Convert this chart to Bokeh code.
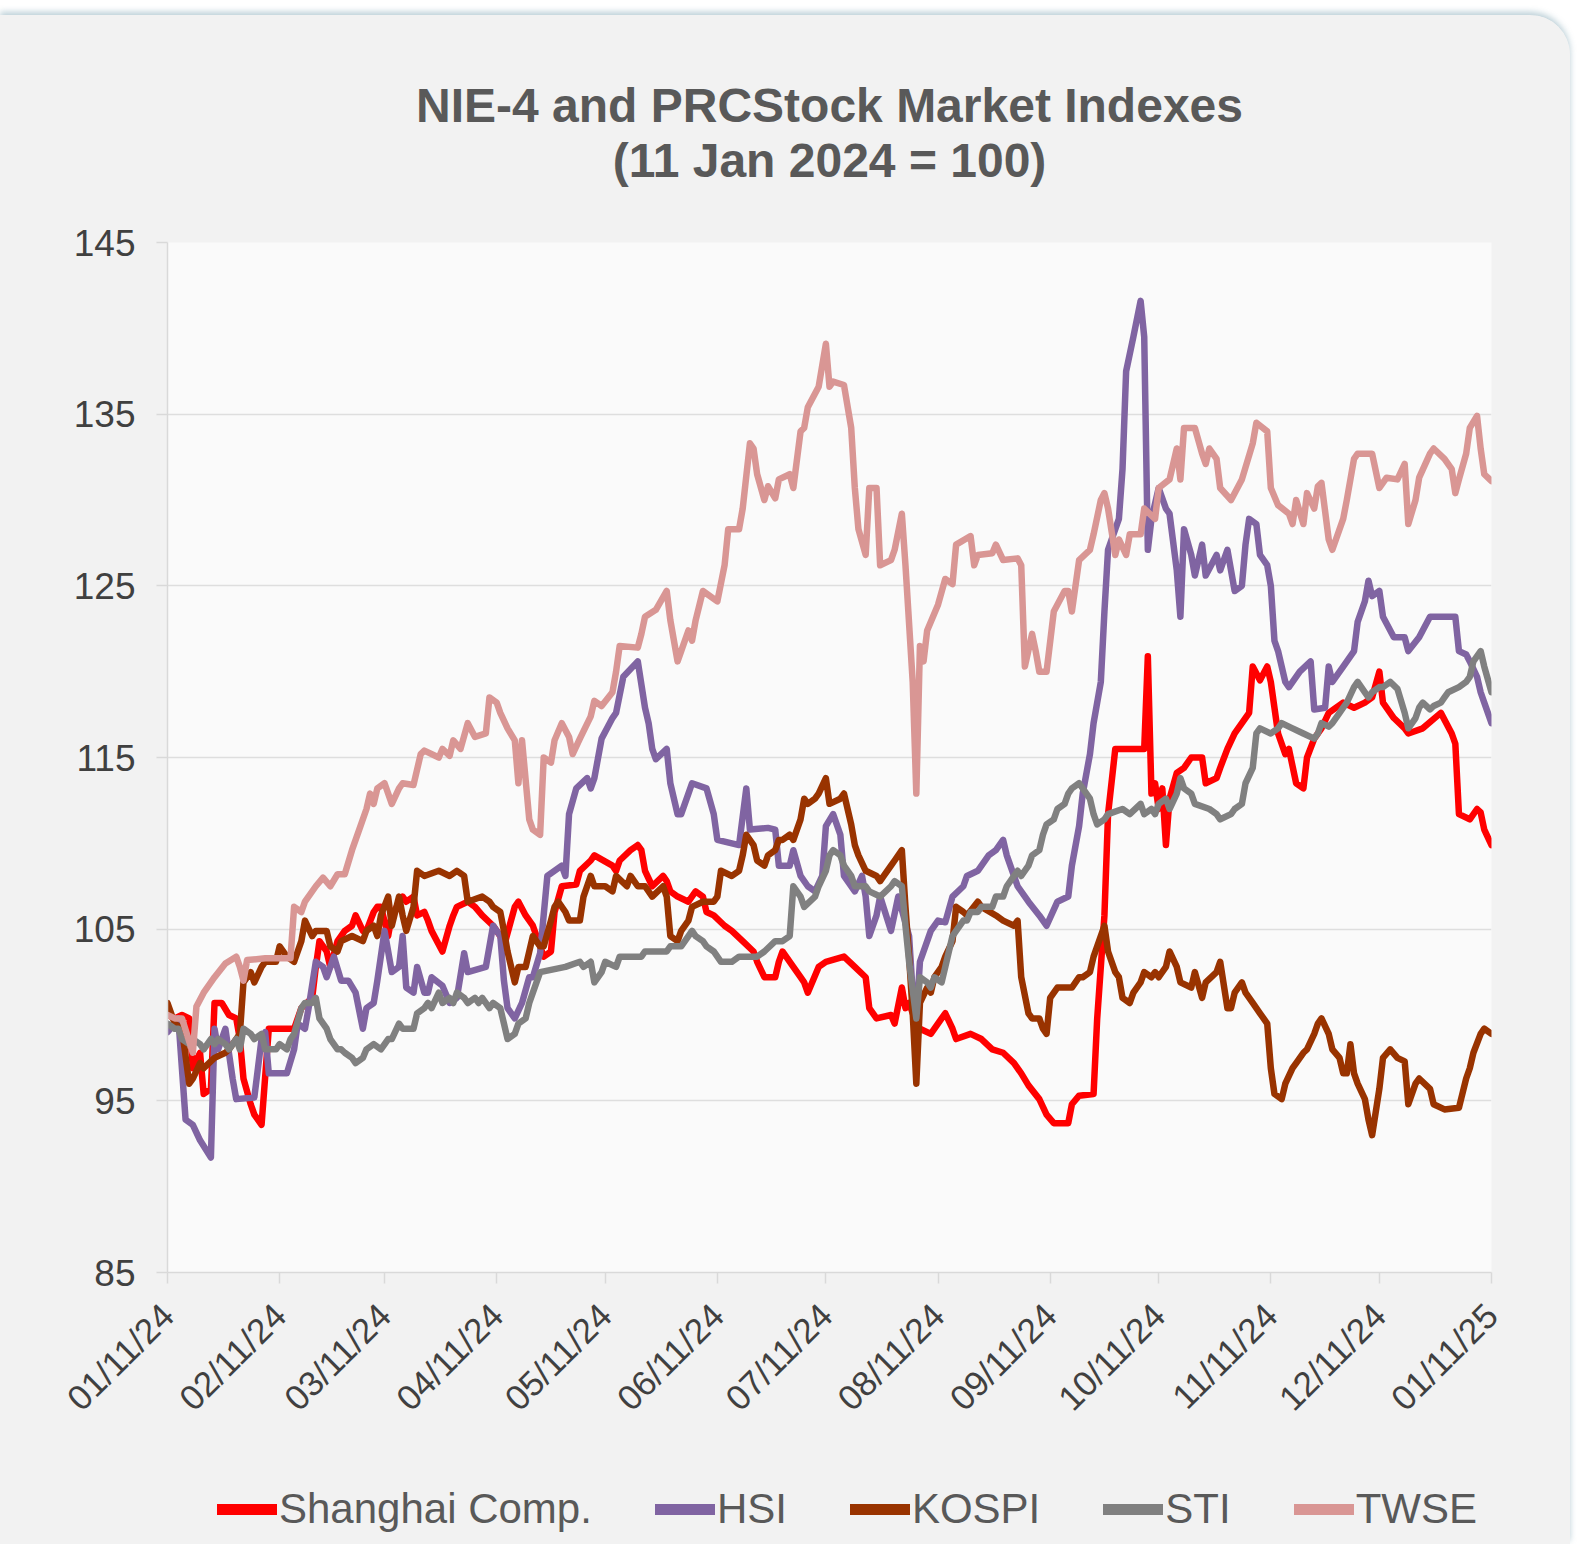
from datetime import datetime, timedelta
import pandas as pd
from bokeh.plotting import figure
from bokeh.layouts import column
from bokeh.models import FixedTicker, Legend, LegendItem, Range1d
from bokeh.embed import file_html
from bokeh.resources import INLINE

# ---------------- data (day offsets from 11 Jan 2024, index value) ----------------
start_date = "2024-01-11"

shanghai_day = [0, 2, 4, 6, 7, 9, 10, 12, 13, 15, 17, 19, 20, 21, 23, 24, 26, 28, 35, 37, 40, 41, 42, 44, 45, 47, 49, 51, 52, 54, 55, 57, 58, 59, 61, 62, 65, 66, 68, 69, 71, 72, 73, 76, 78, 79, 80, 83, 85, 87, 90, 92, 93, 96, 97, 99, 101, 103, 104, 106, 107, 109, 113, 114, 117, 118, 123, 124, 125, 128, 130, 131, 132, 134, 137, 138, 139, 141, 144, 146, 148, 149, 151, 154, 156, 159, 162, 163, 165, 168, 169, 170, 173, 175, 176, 177, 180, 182, 187, 190, 193, 194, 196, 200, 201, 203, 204, 205, 207, 208, 211, 214, 215, 217, 218, 222, 225, 228, 231, 234, 236, 238, 241, 243, 245, 249, 250, 252, 256, 257, 259, 260, 262, 270, 271, 272, 273, 274, 275, 276, 277, 279, 281, 283, 286, 287, 290, 291, 293, 295, 297, 299, 300, 302, 304, 305, 307, 309, 310, 312, 314, 315, 317, 319, 321, 325, 328, 331, 333, 335, 336, 339, 342, 343, 347, 352, 355, 356, 357, 360, 362, 363, 364, 366]
shanghai_val = [100, 99.8, 100, 99.8, 96.9, 97.8, 95.4, 95.7, 100.7, 100.7, 100, 99.8, 98.6, 96.3, 94.8, 94.2, 93.6, 99.2, 99.2, 100.4, 101, 102.8, 104.3, 103.7, 102.8, 104.3, 104.9, 105.2, 105.8, 104.9, 104.9, 106, 106.3, 106.3, 104.6, 105.8, 106.9, 106.6, 106.9, 105.8, 106, 105.5, 104.9, 103.7, 105.2, 105.8, 106.3, 106.6, 106.3, 105.8, 105.2, 104.6, 104, 106.3, 106.6, 105.8, 105.2, 104, 103.4, 103.7, 106, 107.5, 107.6, 108.4, 109, 109.3, 108.7, 108.4, 109, 109.6, 109.9, 109.6, 108.4, 107.5, 108.1, 107.8, 107.2, 106.9, 106.6, 107.2, 106.9, 106, 105.8, 105.2, 104.9, 104.3, 103.7, 103.1, 102.2, 102.2, 103.1, 103.7, 102.8, 102.2, 101.9, 101.3, 102.8, 103.1, 103.4, 102.8, 102.2, 100.4, 99.8, 100, 99.5, 101.6, 100.4, 100.7, 99.5, 99.2, 98.9, 99.8, 100.1, 99.2, 98.6, 98.9, 98.6, 98.0, 97.8, 97.2, 96.6, 95.9, 95.1, 94.2, 93.7, 93.7, 94.8, 95.3, 95.4, 99.8, 105.8, 111.7, 115.5, 115.5, 120.9, 112.9, 113.5, 112.0, 113.2, 109.9, 112.6, 114.1, 114.4, 115, 115, 113.5, 113.8, 114.4, 115.5, 116.4, 117, 117.6, 120.3, 119.5, 120.3, 119.4, 116.4, 115.2, 115.5, 113.5, 113.2, 115, 116.1, 116.7, 117.6, 118.2, 117.9, 118.2, 118.5, 120, 118.2, 117.3, 116.7, 116.4, 116.7, 117.6, 116.4, 115.8, 111.7, 111.4, 112, 111.8, 110.8, 109.9]

hsi_day = [0, 2, 3, 5, 7, 9, 12, 13, 14, 16, 18, 19, 24, 26, 27, 28, 33, 35, 36, 38, 39, 41, 43, 44, 46, 48, 50, 52, 54, 55, 57, 58, 60, 62, 64, 65, 66, 68, 69, 71, 72, 73, 76, 78, 80, 82, 83, 88, 90, 92, 93, 94, 96, 98, 100, 101, 103, 105, 109, 110, 111, 113, 116, 117, 118, 120, 123, 124, 126, 130, 132, 133, 134, 135, 138, 139, 141, 142, 144, 145, 149, 151, 152, 158, 160, 161, 166, 168, 169, 172, 173, 175, 177, 179, 181, 182, 184, 186, 187, 190, 192, 193, 194, 196, 197, 200, 202, 205, 206, 207, 208, 211, 213, 215, 217, 220, 221, 224, 227, 229, 231, 232, 235, 238, 241, 243, 246, 249, 250, 252, 253, 255, 256, 258, 259, 260, 263, 264, 265, 267, 269, 270, 271, 272, 274, 276, 277, 279, 280, 281, 283, 284, 286, 287, 290, 291, 293, 294, 295, 297, 298, 299, 301, 302, 304, 305, 306, 307, 309, 310, 313, 316, 317, 320, 321, 322, 325, 328, 329, 331, 332, 333, 335, 336, 339, 342, 343, 346, 349, 355, 356, 357, 359, 360, 362, 363, 364, 366]
hsi_val = [99, 99.5, 99.8, 93.9, 93.6, 92.7, 91.7, 99.2, 98, 99.2, 96.3, 95.1, 95.2, 98.6, 99, 96.6, 96.6, 98, 99.5, 99.2, 100.4, 103.1, 102.8, 102.2, 103.4, 102, 102, 101.3, 99.2, 100.4, 100.7, 102, 104.9, 102.5, 102.8, 104.6, 101.6, 101.3, 102.8, 101.3, 101.3, 102.2, 101.7, 100.7, 101, 103.6, 102.5, 102.8, 105.2, 104.6, 102, 100.4, 99.8, 100.7, 102.2, 102.2, 103.6, 108.1, 108.7, 108.1, 111.7, 113.2, 113.8, 113.2, 113.8, 116.1, 117.3, 117.6, 119.7, 120.6, 117.9, 117, 115.5, 114.9, 115.5, 113.5, 111.7, 111.7, 112.9, 113.5, 113.2, 111.7, 110.2, 109.9, 113.2, 110.8, 110.9, 110.8, 108.7, 108.7, 109.6, 108.1, 107.5, 107.2, 108.1, 111, 111.7, 110.5, 108.1, 107.2, 108.1, 106.9, 104.6, 105.8, 106.9, 104.9, 106.9, 104.6, 101.3, 99.8, 103.1, 104.9, 105.5, 105.4, 106.9, 107.5, 108.1, 108.4, 109.3, 109.6, 110.2, 109.3, 107.5, 106.6, 105.8, 105.2, 106.6, 106.9, 108.7, 111, 112.9, 115.2, 117, 119.4, 123.5, 127.1, 128.9, 131.8, 137.5, 139.5, 141.6, 139.5, 127.1, 128.9, 130.7, 129.5, 129.2, 125.9, 123.2, 128.3, 126.8, 125.6, 127.4, 125.6, 126.8, 125.9, 127.1, 125.9, 124.7, 125, 127.4, 128.9, 128.6, 126.8, 126.2, 125, 121.8, 121.2, 119.4, 119.1, 120, 120.6, 117.8, 117.9, 120.3, 119.4, 120.3, 121.2, 122.9, 124.1, 125.3, 124.4, 124.7, 123.2, 122, 122, 121.2, 122, 123.2, 123.2, 123.2, 121.2, 121, 120.6, 119.7, 118.8, 118.2, 117]

kospi_day = [0, 2, 4, 6, 7, 9, 10, 13, 16, 17, 19, 20, 21, 23, 24, 26, 27, 30, 31, 33, 35, 37, 38, 40, 41, 44, 45, 47, 48, 51, 54, 55, 57, 58, 59, 61, 62, 64, 65, 66, 68, 69, 71, 75, 78, 80, 82, 83, 87, 89, 90, 92, 93, 94, 96, 97, 99, 100, 101, 103, 104, 106, 107, 108, 110, 111, 114, 115, 117, 118, 121, 123, 124, 127, 128, 130, 132, 134, 137, 138, 139, 141, 142, 144, 145, 148, 151, 152, 153, 156, 158, 159, 160, 162, 163, 165, 166, 168, 169, 170, 172, 173, 175, 176, 177, 179, 180, 182, 183, 186, 187, 189, 190, 191, 193, 196, 197, 198, 200, 201, 203, 204, 205, 206, 207, 208, 210, 211, 212, 214, 215, 217, 218, 220, 221, 224, 225, 229, 231, 234, 235, 236, 238, 239, 241, 242, 243, 244, 246, 250, 252, 253, 255, 256, 257, 259, 260, 262, 263, 264, 266, 267, 269, 270, 272, 273, 274, 276, 277, 279, 280, 283, 284, 286, 287, 290, 291, 293, 294, 295, 297, 298, 300, 302, 304, 305, 306, 308, 309, 311, 312, 314, 315, 317, 318, 319, 321, 322, 324, 325, 326, 327, 328, 329, 331, 332, 333, 335, 336, 338, 340, 342, 343, 345, 346, 349, 350, 353, 357, 359, 360, 361, 363, 364, 366]
kospi_val = [100.7, 99.5, 99.2, 96, 96.3, 97.2, 96.9, 97.5, 97.8, 98, 98.6, 98.9, 101.9, 102.5, 101.9, 102.8, 103.1, 103.1, 104, 103.4, 103.1, 104.3, 105.5, 104.6, 104.9, 104.9, 104, 103.7, 104.3, 104.6, 104.3, 104.9, 105.2, 104.6, 105.8, 106.9, 105.2, 106.9, 105.8, 104.9, 106.3, 108.4, 108.1, 108.4, 108.1, 108.4, 108.1, 106.6, 106.9, 106.6, 106.3, 106, 104.9, 103.7, 101.9, 102.8, 102.8, 103.7, 104.6, 104, 104, 105.5, 106.3, 106.6, 106, 105.5, 105.5, 106.9, 108.1, 107.5, 107.5, 107.2, 108.1, 107.5, 108.1, 107.5, 107.5, 106.9, 107.5, 106.9, 104.6, 104.3, 104.9, 105.5, 106.3, 106.6, 106.6, 106.9, 108.4, 108.1, 108.4, 109.3, 110.5, 109.9, 109, 108.7, 109.3, 109.6, 110.2, 110.2, 110.5, 110.2, 111.4, 112.6, 112.3, 112.6, 112.9, 113.8, 112.3, 112.6, 112.9, 111.1, 109.9, 109.3, 108.4, 108.1, 107.8, 108.1, 108.7, 109, 109.6, 106.3, 103.4, 100.1, 96, 100.7, 101.6, 101.3, 102.2, 102.8, 103.4, 104.3, 106.3, 106, 105.8, 106.6, 106.3, 105.8, 105.5, 105.2, 105.5, 102.2, 100.1, 99.8, 99.8, 99.2, 98.9, 101, 101.6, 101.6, 102.2, 102.2, 102.5, 103.4, 104, 105.2, 103.7, 102.5, 102.2, 101, 100.7, 101.3, 101.9, 102.5, 102.2, 102.5, 102.2, 102.8, 103.7, 102.8, 101.9, 101.6, 102.5, 101, 101.9, 102.5, 103.1, 100.4, 100.4, 101.3, 101.9, 101.3, 100.7, 100.1, 99.5, 96.9, 95.4, 95.1, 96, 96.9, 97.2, 97.8, 98, 98.9, 99.5, 99.8, 98.9, 98, 97.5, 96.6, 96.6, 98.3, 96.6, 96, 95.1, 93.9, 93, 95.7, 97.5, 98, 97.5, 97.3, 94.8, 96, 96.3, 95.7, 94.8, 94.5, 94.6, 96.3, 96.9, 97.8, 98.9, 99.2, 98.9]

sti_day = [0, 2, 3, 4, 6, 7, 9, 10, 12, 13, 14, 16, 17, 19, 20, 21, 23, 24, 26, 27, 30, 31, 33, 34, 35, 37, 38, 40, 41, 42, 44, 45, 47, 48, 49, 51, 52, 54, 55, 57, 59, 61, 62, 64, 65, 68, 69, 71, 72, 73, 75, 76, 78, 79, 80, 82, 83, 85, 86, 87, 89, 90, 92, 93, 94, 96, 97, 99, 100, 101, 103, 110, 114, 115, 117, 118, 120, 121, 124, 125, 131, 132, 138, 139, 142, 144, 145, 146, 148, 149, 151, 153, 156, 158, 163, 165, 168, 170, 172, 173, 175, 176, 179, 180, 182, 183, 184, 186, 187, 189, 190, 193, 194, 197, 200, 201, 203, 204, 205, 207, 208, 210, 211, 212, 214, 215, 217, 218, 220, 221, 222, 224, 225, 228, 229, 231, 232, 234, 235, 236, 238, 239, 241, 242, 243, 245, 246, 248, 249, 250, 252, 253, 255, 256, 257, 259, 260, 264, 266, 269, 270, 272, 273, 274, 276, 277, 279, 280, 281, 283, 284, 288, 290, 291, 294, 295, 297, 298, 300, 301, 302, 305, 307, 308, 311, 314, 317, 318, 319, 321, 322, 324, 325, 326, 328, 329, 331, 332, 333, 335, 336, 338, 340, 342, 343, 345, 346, 347, 349, 350, 352, 353, 354, 357, 359, 360, 361, 363, 364, 366]
sti_val = [99.5, 99.2, 99.2, 98.6, 98.3, 98.6, 98.3, 98, 98.6, 98.3, 98.6, 98.3, 98, 98.6, 98, 99.2, 98.9, 98.6, 98.9, 98, 98, 98.3, 98, 98.6, 98.9, 100.4, 100.7, 100.7, 101, 99.8, 99.2, 98.6, 98, 98, 97.8, 97.5, 97.2, 97.5, 98, 98.3, 98, 98.6, 98.6, 99.5, 99.2, 99.2, 100.1, 100.4, 100.7, 100.4, 101.3, 100.7, 101, 100.7, 101.3, 101, 100.7, 101, 100.7, 101, 100.4, 100.7, 100.4, 99.5, 98.6, 98.9, 99.5, 99.8, 100.7, 101.3, 102.5, 102.8, 103.1, 102.8, 103.1, 101.9, 102.5, 103.1, 102.8, 103.4, 103.4, 103.7, 103.7, 104, 104, 104.6, 104.9, 104.6, 104.3, 104, 103.7, 103.1, 103.1, 103.4, 103.4, 103.7, 104.3, 104.3, 104.6, 107.5, 106.9, 106.3, 106.9, 107.5, 108.4, 109.3, 109.6, 109.3, 108.7, 108.1, 107.5, 107.5, 107.2, 106.9, 107.5, 107.8, 107.5, 105.2, 103.1, 99.8, 102.2, 101.9, 101.6, 102.2, 101.9, 102.8, 104.6, 104.9, 105.5, 105.5, 106, 106, 106.3, 106.3, 106.9, 106.9, 107.5, 108.1, 108.4, 108.1, 108.7, 109.3, 109.6, 110.5, 111.1, 111.4, 112, 112.3, 112.9, 113.2, 113.5, 113.2, 112.6, 111.7, 111.1, 111.4, 111.7, 112, 111.7, 112.3, 111.7, 112, 111.7, 112.3, 112.6, 112, 112.9, 113.8, 113.2, 112.9, 112.3, 112, 111.7, 111.4, 111.7, 112, 112.3, 113.5, 114.4, 116.4, 116.7, 116.4, 116.7, 117, 116.7, 116.4, 116.1, 116.4, 117, 116.8, 117, 117.6, 117.9, 118.2, 119.1, 119.4, 118.8, 118.5, 118.8, 119.1, 119.1, 119.4, 119, 117.6, 116.7, 117.3, 117.9, 118.2, 117.8, 118, 118.2, 118.5, 118.8, 119.1, 119.4, 119.7, 120.6, 121.2, 120.3, 118.8]

twse_day = [0, 2, 4, 7, 8, 10, 13, 16, 19, 20, 21, 22, 27, 34, 35, 37, 38, 41, 43, 45, 47, 49, 51, 53, 55, 56, 57, 58, 60, 62, 64, 65, 68, 70, 71, 75, 76, 78, 79, 81, 83, 85, 88, 89, 91, 92, 94, 96, 97, 98, 100, 101, 103, 104, 106, 107, 109, 111, 112, 114, 117, 118, 120, 123, 124, 125, 130, 131, 132, 135, 138, 139, 141, 142, 144, 145, 146, 148, 152, 154, 155, 158, 159, 161, 162, 163, 165, 166, 168, 169, 172, 173, 175, 176, 177, 180, 182, 183, 184, 187, 189, 190, 191, 193, 194, 196, 197, 200, 201, 203, 204, 206, 207, 208, 209, 210, 213, 215, 217, 218, 222, 223, 224, 228, 229, 231, 235, 236, 237, 239, 240, 241, 243, 245, 248, 249, 250, 252, 255, 256, 258, 259, 260, 262, 263, 265, 266, 269, 270, 273, 274, 277, 279, 280, 281, 284, 286, 287, 288, 290, 291, 294, 297, 300, 301, 304, 305, 307, 310, 311, 312, 314, 315, 317, 318, 319, 321, 322, 325, 326, 328, 329, 333, 335, 337, 340, 342, 343, 345, 346, 349, 350, 353, 355, 356, 357, 359, 360, 362, 363, 364, 366]
twse_val = [100, 99.8, 99.8, 97.8, 100.5, 101.3, 102.2, 103, 103.4, 102.8, 102, 103.2, 103.3, 103.3, 106.3, 106, 106.6, 107.5, 108, 107.5, 108.2, 108.2, 109.6, 110.8, 112, 112.9, 112.3, 113.2, 113.5, 112.3, 113.2, 113.5, 113.4, 115.2, 115.4, 115, 115.5, 115.1, 116, 115.5, 117, 116.2, 116.4, 118.5, 118.2, 117.6, 116.7, 116, 113.5, 116, 111.4, 110.8, 110.5, 115, 114.7, 116, 117, 116.2, 115.2, 116.1, 117.4, 118.3, 118, 118.8, 120, 121.5, 121.4, 122.2, 123.2, 123.6, 124.7, 123, 120.6, 121.2, 122.4, 121.8, 123, 124.7, 124.1, 126.2, 128.3, 128.3, 129.5, 133.3, 133, 131.5, 130, 130.8, 130.1, 131.2, 131.5, 130.7, 134, 134.2, 135.4, 136.6, 139.1, 136.6, 136.9, 136.7, 134.2, 130.7, 128.3, 126.8, 130.7, 130.7, 126.2, 126.5, 127.1, 129.2, 126.2, 119.4, 112.9, 121.5, 120.6, 122.4, 123.9, 125.4, 125.1, 127.4, 127.9, 126.2, 126.8, 126.9, 127.4, 126.5, 126.6, 126.2, 120.3, 122.2, 121.2, 120, 120, 123.5, 124.7, 124.7, 123.5, 126.5, 127.1, 128, 130, 130.4, 129.5, 126.8, 127.7, 126.8, 128, 128, 129.5, 128.9, 130.7, 131.2, 133, 131.2, 134.2, 134.2, 132.7, 132.1, 133, 132.4, 130.7, 130, 131.2, 133.3, 134.5, 134, 130.7, 129.7, 129.2, 128.6, 130, 128.6, 130.4, 129.5, 130.8, 131, 127.7, 127.1, 128.9, 130, 132.4, 132.7, 132.7, 130.7, 131.3, 131.2, 132.1, 128.6, 130, 131.3, 132.7, 133, 132.4, 131.8, 130.4, 131.2, 132.7, 134.2, 134.9, 133, 131.5, 131.1]

series_names = ["Shanghai Comp.", "HSI", "KOSPI", "STI", "TWSE"]
series_colors = ["#ff0000", "#8064a2", "#993300", "#808080", "#d99694"]
series_days = [shanghai_day, hsi_day, kospi_day, sti_day, twse_day]
series_vals = [shanghai_val, hsi_val, kospi_val, sti_val, twse_val]

x_tick_dates = ["2024-01-11", "2024-02-11", "2024-03-11", "2024-04-11", "2024-05-11", "2024-06-11",
                "2024-07-11", "2024-08-11", "2024-09-11", "2024-10-11", "2024-11-11", "2024-12-11",
                "2025-01-11"]
x_tick_labels = ["01/11/24", "02/11/24", "03/11/24", "04/11/24", "05/11/24", "06/11/24",
                 "07/11/24", "08/11/24", "09/11/24", "10/11/24", "11/11/24", "12/11/24", "01/11/25"]
y_ticks = [85, 95, 105, 115, 125, 135, 145]
title_text = "NIE-4 and PRCStock Market Indexes\n(11 Jan 2024 = 100)"

# ---------------- main chart ----------------
FONT = "Liberation Sans"
BG = "#f2f2f2"
t0 = datetime.strptime(start_date, "%Y-%m-%d")
tick_ms = [pd.Timestamp(d).value // 10**6 for d in x_tick_dates]

p = figure(
    x_axis_type="datetime",
    frame_width=1324, frame_height=1030,
    min_border_left=167, min_border_right=79, min_border_top=227, min_border_bottom=200,
    output_backend="svg", toolbar_location=None,
    x_range=Range1d(tick_ms[0], tick_ms[-1]), y_range=Range1d(85, 145),
)
p.background_fill_color = "#fafafa"
p.border_fill_color = BG
p.outline_line_color = None

p.title.text = title_text
p.title.align = "center"
p.title.text_align = "center"
p.title.text_font = FONT
p.title.text_font_size = "48px"
p.title.text_font_style = "bold"
p.title.text_color = "#595959"
p.title.standoff = 110
p.title.text_line_height = 1.04

p.xaxis.ticker = FixedTicker(ticks=tick_ms)
p.xaxis.major_label_overrides = {ms: lab for ms, lab in zip(tick_ms, x_tick_labels)}
p.xaxis.major_label_orientation = 0.7854
p.yaxis.ticker = FixedTicker(ticks=y_ticks)
for ax in (p.xaxis, p.yaxis):
    ax.axis_line_color = "#d9d9d9"
    ax.axis_line_width = 1.5
    ax.major_tick_line_color = "#d9d9d9"
    ax.major_tick_line_width = 1.5
    ax.major_tick_out = 11
    ax.major_tick_in = 0
    ax.minor_tick_line_color = None
    ax.major_label_text_font = FONT
    ax.major_label_text_color = "#404040"
p.yaxis.major_label_text_font_size = "37px"
p.xaxis.major_label_text_font_size = "35px"
p.yaxis.major_label_standoff = 21
p.xaxis.major_label_standoff = 26

p.xgrid.grid_line_color = None
p.ygrid.grid_line_color = "#dedede"
p.ygrid.grid_line_width = 1.5

for name, col, days, vals in zip(series_names, series_colors, series_days, series_vals):
    xs = [t0 + timedelta(days=d) for d in days]
    p.line(xs, vals, line_color=col, line_width=6.5, line_join="round", line_cap="round")

# ---------------- legend strip ----------------
NAN = float("nan")
lg = figure(width=1570, height=72, output_backend="svg", toolbar_location=None,
            x_range=Range1d(0, 1), y_range=Range1d(0, 1),
            x_axis_location=None, y_axis_location=None,
            min_border_left=0, min_border_right=0, min_border_top=0, min_border_bottom=0)
lg.grid.grid_line_color = None
lg.background_fill_color = BG
lg.border_fill_color = BG
lg.outline_line_color = None

items = []
for name, col in zip(series_names, series_colors):
    # legend-key renderer only (no visible data)
    r = lg.line(x=[NAN, NAN], y=[NAN, NAN], line_color=col, line_width=11, line_cap="round")
    items.append(LegendItem(label=name, renderers=[r]))

legend = Legend(items=items, orientation="horizontal", location=(50, 10),
                glyph_width=60, glyph_height=50, label_height=50, label_standoff=2, spacing=63,
                padding=0, margin=0, background_fill_alpha=0, border_line_color=None,
                label_text_font=FONT, label_text_font_size="42px", label_text_color="#595959")
lg.add_layout(legend, "center")

layout = column(p, lg, spacing=0)
layout.styles = {"margin-top": "15px", "border-top-right-radius": "40px", "overflow": "hidden",
                 "background-color": BG,
                 "box-shadow": "0px -3px 6px rgba(170, 195, 205, 0.8)"}

open("out.html", "w").write(file_html(layout, INLINE))
